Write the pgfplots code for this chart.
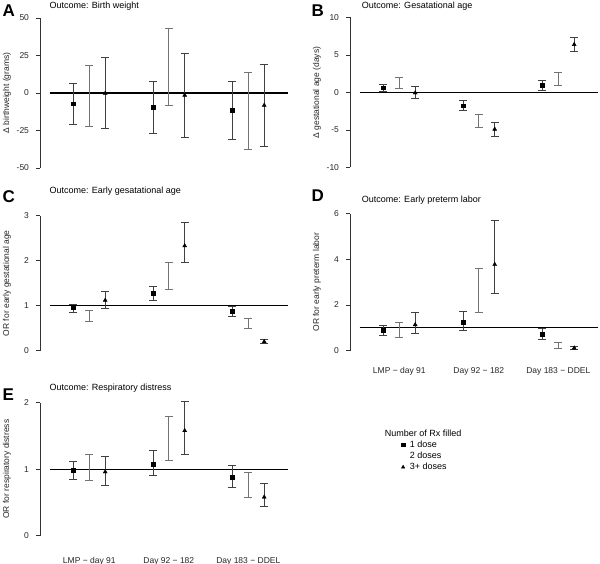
\documentclass[border=0pt]{standalone}
\usepackage{fontspec}
\setmainfont{Liberation Sans}
\usepackage{pgfplots}
\usepackage{pgfplotstable}
\pgfplotsset{compat=1.18}

% columns: group, est/lo/hi for 1 dose, lo/hi for 2 doses, est/lo/hi for 3+ doses
\pgfplotstableread{
g est1 lo1 hi1 lo2 hi2 est3 lo3 hi3
1 -7.1 -20.8 6.4 -22.1 18.6 -0.2 -23.9 23.5
2 -9.5 -27.2 8.0 -8.4 42.9 -1.5 -29.6 26.1
3 -11.7 -30.8 7.5 -37.4 13.5 -8.2 -35.6 19.2
}\tA
\pgfplotstableread{
g est1 lo1 hi1 lo2 hi2 est3 lo3 hi3
1 0.65 0.13 1.05 0.55 2.0 -0.05 -0.8 0.8
2 -1.77 -2.4 -1.1 -4.6 -2.9 -4.9 -5.9 -3.95
3 1.0 0.25 1.65 0.95 2.68 6.4 5.5 7.35
}\tB
\pgfplotstableread{
g est1 lo1 hi1 lo2 hi2 est3 lo3 hi3
1 0.96 0.86 1.04 0.65 0.90 1.12 0.94 1.31
2 1.27 1.12 1.43 1.36 1.96 2.33 1.96 2.85
3 0.87 0.76 0.99 0.49 0.72 0.20 0.16 0.26
}\tC
\pgfplotstableread{
g est1 lo1 hi1 lo2 hi2 est3 lo3 hi3
1 0.88 0.66 1.10 0.57 1.24 1.14 0.77 1.68
2 1.26 0.89 1.71 1.69 3.60 3.78 2.51 5.69
3 0.72 0.51 1.00 0.10 0.35 0.12 0.07 0.19
}\tD
\pgfplotstableread{
g est1 lo1 hi1 lo2 hi2 est3 lo3 hi3
1 0.98 0.85 1.12 0.83 1.23 0.96 0.76 1.20
2 1.08 0.90 1.28 1.14 1.79 1.58 1.23 2.02
3 0.88 0.73 1.06 0.58 0.95 0.58 0.44 0.78
}\tE

\newcommand{\fs}{\fontsize{8.5}{10}\selectfont}
\newcommand{\ft}{\fontsize{9}{11}\selectfont}
\pgfplotsset{
  panel/.style={
    scale only axis, clip=false,
    width=257.6pt,
    xmin=0.38, xmax=3.62,
    axis y line*=left, axis x line*=bottom,
    x axis line style={draw=none},
    xtick={1,2,3}, xtick style={draw=none},
    xticklabels={},
    tick align=outside, major tick length=4pt,
    y axis line style={line width=0.6pt, black!80},
    ytick style={line width=0.6pt, black!80},
    tick label style={font=\fs, black!85},
    yticklabel style={xshift=-3.5pt},
    label style={font=\fs, black!85},
    /pgf/number format/assume math mode=true,
    ylabel style={at={(axis description cs:0,0.5)}, yshift=33pt, anchor=center},
  },
  eb/.style={error bars/.cd, y dir=both, y explicit,
    error bar style={line width=0.7pt, draw=#1, solid},
    error mark options={rotate=90, line width=0.7pt, draw=#1, mark size=4pt}},
  dose1/.style={forget plot, only marks, mark=square*, mark size=1.9pt, black, eb=black!75},
  dose2/.style={forget plot, draw=none, mark=none, eb=black!55},
  dose3/.style={forget plot, only marks, mark=triangle*, mark size=2.3pt, black, eb=black!75},
  refline/.style={forget plot, black, line width=1.2pt},
}
\newcommand{\series}[2]{%
  \addplot[refline] coordinates {(0.5,#2) (3.5,#2)};
  \addplot[dose2] table[x=g, y=lo2, y error plus expr=\thisrow{hi2}-\thisrow{lo2}, y error minus expr=0] {#1};
  \addplot[dose1] table[x expr=\thisrow{g}-0.2, y=est1, y error plus expr=\thisrow{hi1}-\thisrow{est1}, y error minus expr=\thisrow{est1}-\thisrow{lo1}] {#1};
  \addplot[dose3] table[x expr=\thisrow{g}+0.2, y=est3, y error plus expr=\thisrow{hi3}-\thisrow{est3}, y error minus expr=\thisrow{est3}-\thisrow{lo3}] {#1};
}

\begin{document}
\begin{tikzpicture}
\path[use as bounding box] (0pt,0pt) rectangle (600pt,564pt);

% A
\begin{axis}[panel, at={(40pt,396pt)}, anchor=south west, height=150pt,
  ymin=-50, ymax=50, ytick={-50,-25,0,25,50},
  ylabel={Δ birthweight (grams)}]
\series{\tA}{0}
\end{axis}
% B
\begin{axis}[panel, at={(350pt,396.5pt)}, anchor=south west, height=150pt,
  ymin=-10, ymax=10, ytick={-10,-5,0,5,10},
  ylabel={Δ gestational age (days)}]
\series{\tB}{0}
\end{axis}
% C
\begin{axis}[panel, at={(40pt,213.3pt)}, anchor=south west, height=135pt,
  ymin=0, ymax=3, ytick={0,1,2,3},
  ylabel={OR for early gestational age}]
\series{\tC}{1}
\end{axis}
% D
\begin{axis}[panel, at={(350pt,213.3pt)}, anchor=south west, height=137pt,
  ymin=0, ymax=6, ytick={0,2,4,6},
  xticklabels={LMP − day 91, Day 92 − 182, Day 183 − DDEL},
  xticklabel style={yshift=-9.5pt},
  ylabel={OR for early preterm labor}]
\series{\tD}{1}
\end{axis}
% E
\begin{axis}[panel, at={(40pt,28.3pt)}, anchor=south west, height=133pt,
  ymin=0, ymax=2, ytick={0,1,2},
  xticklabels={LMP − day 91, Day 92 − 182, Day 183 − DDEL},
  xticklabel style={yshift=-14pt},
  ylabel={OR for respiratory distress},
  legend style={at={([xshift=-1pt]axis description cs:1.368,0.83)}, anchor=north west,
    draw=none, fill=none, font=\ft, row sep=-0.8pt},
  legend cell align=left]
\series{\tE}{1}
\addlegendimage{empty legend}\addlegendentry{\hspace*{-22pt}Number of Rx filled}
\addlegendimage{only marks, mark=square*, mark size=1.7pt, black}\addlegendentry{\hspace*{3pt}1 dose}
\addlegendimage{empty legend}\addlegendentry{\hspace*{3pt}2 doses}
\addlegendimage{only marks, mark=triangle*, mark size=2pt, black}\addlegendentry{\hspace*{3pt}3+ doses}
\end{axis}

% titles
\node[anchor=base west, font=\ft, inner sep=0] at (49.3pt,555.5pt) {Outcome: Birth weight};
\node[anchor=base west, font=\ft, inner sep=0] at (361.7pt,555pt) {Outcome: Gesatational age};
\node[anchor=base west, font=\ft, inner sep=0] at (49.3pt,370pt) {Outcome: Early gesatational age};
\node[anchor=base west, font=\ft, inner sep=0] at (361.7pt,361pt) {Outcome: Early preterm labor};
\node[anchor=base west, font=\ft, inner sep=0] at (49.3pt,173.5pt) {Outcome: Respiratory distress};
% panel letters
\node[anchor=base west, font=\fontsize{17}{20}\selectfont\bfseries, inner sep=0] at (2.5pt,547.5pt) {A};
\node[anchor=base west, font=\fontsize{17}{20}\selectfont\bfseries, inner sep=0] at (311.5pt,547pt) {B};
\node[anchor=base west, font=\fontsize{17}{20}\selectfont\bfseries, inner sep=0] at (2.5pt,361pt) {C};
\node[anchor=base west, font=\fontsize{17}{20}\selectfont\bfseries, inner sep=0] at (311.5pt,362pt) {D};
\node[anchor=base west, font=\fontsize{17}{20}\selectfont\bfseries, inner sep=0] at (2.5pt,163pt) {E};
\end{tikzpicture}
\end{document}
